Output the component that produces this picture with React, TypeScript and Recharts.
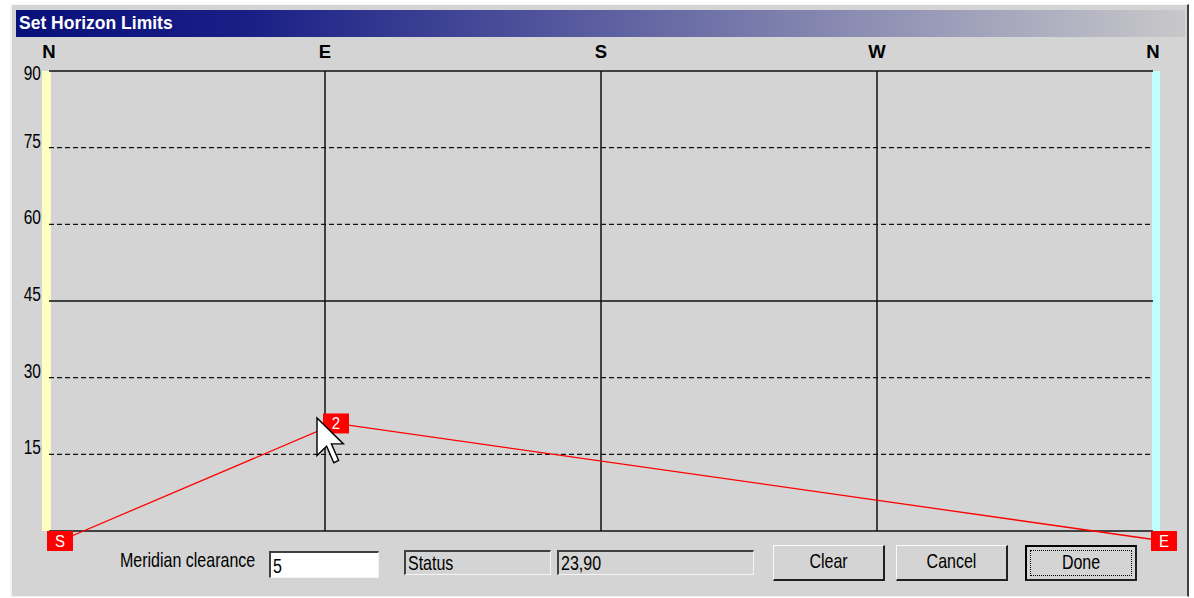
import React from 'react';
import { ComposedChart, Line, XAxis, YAxis, ReferenceLine, ReferenceArea } from 'recharts';

// ---- data ----
const azimuths = [0, 90, 360];
const altitudes = [0, 23, 0];
const pointLabels = ['S', '2', 'E'];
const compassTicks = [0, 90, 180, 270, 360];
const compassLabels = ['N', 'E', 'S', 'W', 'N'];
const altitudeTicks = [15, 30, 45, 60, 75, 90];
const solidAltitudes = [0, 45, 90];
const dashedAltitudes = [15, 30, 60, 75];
const solidAzimuths = [90, 180, 270];
const meridianClearance = '5';
const statusText = 'Status';
const positionText = '23,90';
const buttonLabels = ['Clear', 'Cancel', 'Done'];
const titleText = 'Set Horizon Limits';

const data = azimuths.map((az, i) => ({ az, alt: altitudes[i], label: pointLabels[i] }));

const FONT = "'Liberation Sans', Arial, sans-serif";
const BG = '#d4d4d4';

const CompassTick = (props: any) => {
  const { x, y, payload } = props;
  const idx = compassTicks.indexOf(payload.value);
  return (
    <text x={x} y={y} dy={-5} textAnchor="middle" fontFamily={FONT} fontWeight="bold" fontSize={18.5} fill="#000">
      {compassLabels[idx]}
    </text>
  );
};

const AltTick = (props: any) => {
  const { x, y, payload } = props;
  const dy = payload.value === 90 ? 9 : 0;
  return (
    <g transform={`translate(${x},${y + dy}) scale(1,1.35)`}>
      <text x={0} y={0} textAnchor="end" fontFamily={FONT} fontSize={15.5} fill="#000">
        {payload.value}
      </text>
    </g>
  );
};

const MarkerDot = (props: any) => {
  const { cx, cy, index } = props;
  if (cx == null || cy == null) return <g key={index} />;
  return (
    <g key={`m${index}`}>
      <rect x={cx - 13} y={cy - 10} width={26} height={20} fill="#ff0000" />
      <g transform={`translate(${cx},${cy + 6}) scale(1,1.15)`}>
        <text x={0} y={0} textAnchor="middle" fontFamily={FONT} fontSize={15} fill="#fff">
          {pointLabels[index]}
        </text>
      </g>
    </g>
  );
};

const Txt = ({ children, style }: any) => (
  <span style={{ display: 'inline-block', transform: 'scaleY(1.28)', transformOrigin: 'center', ...style }}>{children}</span>
);

const sunken: React.CSSProperties = {
  position: 'absolute',
  boxSizing: 'border-box',
  borderTop: '2px solid #404040',
  borderLeft: '2px solid #404040',
  borderBottom: '1px solid #f4f4f4',
  borderRight: '1px solid #f4f4f4',
  fontFamily: FONT,
  fontSize: 16,
  color: '#000',
  paddingLeft: 2,
  lineHeight: '21px',
};

const Button = ({ left, label, focused }: any) => (
  <div
    style={{
      position: 'absolute',
      left,
      top: 545,
      width: 112,
      height: 36,
      boxSizing: 'border-box',
      borderTop: focused ? '2px solid #000' : '1px solid #fafafa',
      borderLeft: focused ? '2px solid #000' : '1px solid #fafafa',
      borderBottom: '2px solid #202020',
      borderRight: '2px solid #202020',
      background: BG,
      fontFamily: FONT,
      fontSize: 16,
      textAlign: 'center',
      lineHeight: '32px',
      color: '#000',
    }}
  >
    {focused && (
      <div
        style={{
          position: 'absolute',
          left: 3,
          top: 3,
          right: 3,
          bottom: 3,
          border: '1px dotted #000',
        }}
      />
    )}
    <Txt>{label}</Txt>
  </div>
);

export default function App() {
  return (
    <div style={{ position: 'absolute', left: 0, top: 0, width: 1194, height: 598, background: '#fff', overflow: 'hidden' }}>
      {/* dialog frame */}
      <div
        style={{
          position: 'absolute',
          left: 10,
          top: 4,
          width: 1179,
          height: 593,
          boxSizing: 'border-box',
          background: BG,
          borderTop: '1px solid #f8f8f8',
          borderLeft: '2px solid #f4f4f4',
          borderRight: '2px solid #404040',
          borderBottom: '1px solid #eeeeee',
        }}
      />
      {/* title bar */}
      <div
        style={{
          position: 'absolute',
          left: 16,
          top: 10,
          width: 1169,
          height: 27,
          background: 'linear-gradient(to right, #08107a 0%, #1a1f86 20%, #c8c8ca 100%)',
          color: '#fff',
          fontFamily: FONT,
          fontWeight: 'bold',
          fontSize: 17.5,
          lineHeight: '27px',
          paddingLeft: 3,
          boxSizing: 'border-box',
        }}
      >
        {titleText}
      </div>

      {/* chart */}
      <div style={{ position: 'absolute', left: 0, top: 0 }}>
        <ComposedChart width={1194} height={598} data={data} margin={{ top: 41, right: 41, bottom: 67, left: 19 }}>
          <XAxis
            xAxisId="main"
            dataKey="az"
            type="number"
            domain={[0, 360]}
            allowDataOverflow
            ticks={compassTicks}
            interval={0}
            orientation="top"
            height={30}
            axisLine={false}
            tickLine={false}
            tick={<CompassTick />}
          />
          <YAxis
            yAxisId="main"
            type="number"
            domain={[0, 90]}
            allowDataOverflow
            ticks={altitudeTicks}
            interval={0}
            width={30}
            axisLine={false}
            tickLine={false}
            tick={<AltTick />}
          />
          <XAxis xAxisId="off" dataKey="az" type="number" domain={[0, 360]} hide padding={{ left: 11, right: -11 }} />
          <YAxis yAxisId="off" type="number" domain={[0, 90]} hide padding={{ top: 10, bottom: -10 }} />

          {dashedAltitudes.map((v) => (
            <ReferenceLine key={`d${v}`} xAxisId="main" yAxisId="main" y={v} stroke="#111" strokeWidth={1.3} strokeDasharray="5 3" />
          ))}
          {solidAltitudes.map((v) => (
            <ReferenceLine key={`s${v}`} xAxisId="main" yAxisId="main" y={v} stroke="#111" strokeWidth={1.5} />
          ))}
          {solidAzimuths.map((v) => (
            <ReferenceLine key={`a${v}`} xAxisId="main" yAxisId="main" x={v} stroke="#111" strokeWidth={1.5} />
          ))}
          <ReferenceArea xAxisId="main" yAxisId="main" x1={-2.3} x2={0.6} y1={0} y2={90} fill="#ffffbf" fillOpacity={1} stroke="none" ifOverflow="visible" />
          <ReferenceArea xAxisId="main" yAxisId="main" x1={359.7} x2={362.3} y1={0} y2={90} fill="#bfffff" fillOpacity={1} stroke="none" ifOverflow="visible" />

          <Line
            xAxisId="off"
            yAxisId="off"
            dataKey="alt"
            type="linear"
            stroke="#ff0000"
            strokeWidth={1.3}
            dot={<MarkerDot />}
            activeDot={false}
            isAnimationActive={false}
          />
        </ComposedChart>
      </div>

      {/* bottom controls */}
      <div style={{ position: 'absolute', left: 120, top: 551, height: 20, lineHeight: '20px', fontFamily: FONT, fontSize: 16, color: '#000', whiteSpace: 'nowrap' }}>
        <Txt>Meridian clearance</Txt>
      </div>
      <div style={{ ...sunken, left: 269, top: 551, width: 110, height: 27, background: '#fff', lineHeight: '25px' }}>
        <Txt>{meridianClearance}</Txt>
      </div>
      <div style={{ ...sunken, left: 404, top: 550, width: 147, height: 25 }}>
        <Txt>{statusText}</Txt>
      </div>
      <div style={{ ...sunken, left: 557, top: 550, width: 197, height: 25 }}>
        <Txt>{positionText}</Txt>
      </div>
      <Button left={773} label={buttonLabels[0]} />
      <Button left={896} label={buttonLabels[1]} />
      <Button left={1025} label={buttonLabels[2]} focused />

      {/* mouse cursor */}
      <svg style={{ position: 'absolute', left: 314, top: 416 }} width={34} height={52}>
        <polygon
          points="3,2 3,39.6 12.6,30.2 19.8,46.7 24.6,44.3 17.4,27.9 29.4,27.9"
          fill="#fff"
          stroke="#000"
          strokeWidth={1.4}
          strokeLinejoin="miter"
        />
      </svg>
    </div>
  );
}
